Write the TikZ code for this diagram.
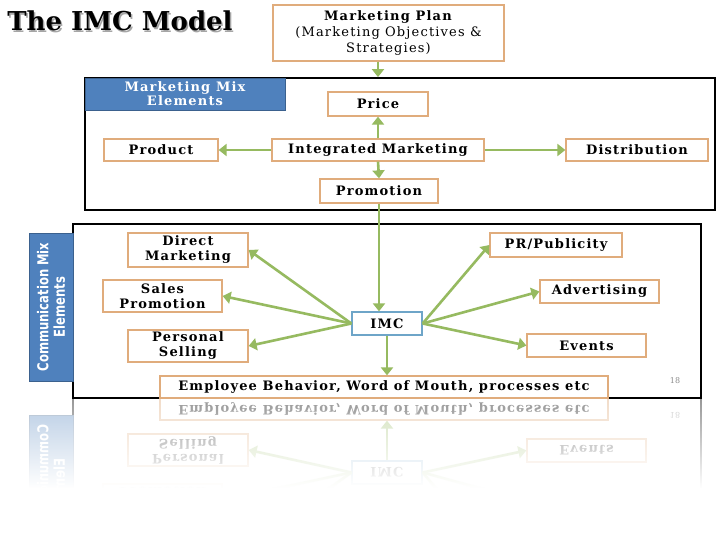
\documentclass[tikz,border=0pt]{standalone}
\usepackage{fontspec}
\setmainfont{DejaVu Serif}
\newfontfamily\spacedserif[LetterSpace=9]{DejaVu Serif}
\newfontfamily\condsans{DejaVu Sans Condensed}
\usetikzlibrary{arrows.meta,fadings}
\definecolor{boxline}{RGB}{224,172,124}
\definecolor{arrowgreen}{RGB}{150,186,96}
\definecolor{labelblue}{RGB}{79,129,189}
\definecolor{imcline}{RGB}{110,165,200}
\tikzset{
  item/.style={draw=boxline, line width=1.3pt, fill=white, align=center, inner sep=0pt,
    font=\spacedserif\bfseries\fontsize{13}{15}\selectfont},
  link/.style={draw=arrowgreen, line width=2.6pt, -{Triangle[length=8pt,width=12pt]}},
  panel/.style={draw=black, line width=1.8pt, inner sep=0pt},
  tag/.style={fill=labelblue, draw=labelblue!75!black, line width=0.8pt, text=white,
    align=center, inner sep=0pt},
}
% lower part, drawn twice (once more as the reflection)
\newcommand{\commlayer}{%
  \node[panel, minimum width=628pt, minimum height=174pt] (comm) at (387,311) {};
  \node[tag, minimum width=44pt, minimum height=148pt] (commtag) at (51,307)
    {\rotatebox{90}{\scalebox{0.86}[1]{\parbox{160pt}{\centering\condsans\bfseries\fontsize{15}{16.5}\selectfont Communication Mix\\Elements}}}};
  \node[item, minimum width=120pt, minimum height=34pt] (direct) at (188,250) {Direct\\Marketing};
  \node[item, minimum width=119pt, minimum height=32pt] (sales) at (162.5,296) {Sales\\Promotion};
  \node[item, minimum width=120pt, minimum height=32pt] (personal) at (188,346) {Personal\\Selling};
  \node[item, draw=imcline, minimum width=70pt, minimum height=23pt] (imc) at (387,323.5) {IMC};
  \node[item, minimum width=448pt, minimum height=22pt] (employee) at (384,387)
    {Employee Behavior, Word of Mouth, processes etc};
  \node[item, minimum width=132pt, minimum height=24pt] (pr) at (556,245) {PR/Publicity};
  \node[item, minimum width=119pt, minimum height=23pt] (advert) at (599.5,291.5) {Advertising};
  \node[item, minimum width=119pt, minimum height=23pt] (events) at (586.5,345.5) {Events};
  \node[text=black!45, font=\fontsize{8}{9}\selectfont] (page) at (675,381) {18};
  \draw[link] (imc.west) -- (direct.east);
  \draw[link] (imc.west) -- (sales.east);
  \draw[link] (imc.west) -- (personal.east);
  \draw[link] (imc.east) -- (pr.west);
  \draw[link] (imc.east) -- (advert.west);
  \draw[link] (imc.east) -- (events.west);
  \draw[link] (imc.south) -- (imc.south |- employee.north);
}
\begin{document}
\begin{tikzpicture}[x=1pt, y=-1pt]
  \useasboundingbox (0,0) rectangle (720,540);
  \fill[white] (0,0) rectangle (720,540);

  % reflection
  \begin{scope}
    \clip (0,398) rectangle (720,540);
    \begin{scope}[shift={(0,796)}, yscale=-1, transform shape]
      \commlayer
    \end{scope}
    \fill[white, opacity=0.6] (0,398) rectangle (720,540);
    \fill[white, path fading=north] (0,400) rectangle (720,488);
    \fill[white] (0,488) rectangle (720,540);
  \end{scope}

  \node[text=black!35, font=\bfseries\fontsize{26}{28}\selectfont] (titleshadow) at (121.5,22.5) {The IMC Model};
  \node[font=\bfseries\fontsize{26}{28}\selectfont] (title) at (120,21) {The IMC Model};

  \node[item, minimum width=231pt, minimum height=56pt, font=\spacedserif\fontsize{13}{16}\selectfont] (plan) at (388.5,33)
    {\textbf{Marketing Plan}\\(Marketing Objectives \&\\Strategies)};

  \node[panel, minimum width=630pt, minimum height=132pt] (mix) at (400,144) {};
  \node[tag, minimum width=200pt, minimum height=32pt, font=\spacedserif\bfseries\fontsize{13}{14}\selectfont] (mixtag) at (185,94)
    {Marketing Mix\\Elements};
  \node[item, minimum width=100pt, minimum height=24pt] (price) at (378,104) {Price};
  \node[item, minimum width=212pt, minimum height=22pt] (im) at (378,150) {Integrated Marketing};
  \node[item, minimum width=114pt, minimum height=22pt] (product) at (161,150) {Product};
  \node[item, minimum width=142pt, minimum height=22pt] (dist) at (637,150) {Distribution};
  \node[item, minimum width=118pt, minimum height=24pt] (promo) at (379,191) {Promotion};

  \draw[link] (im |- plan.south) -- (im |- mix.north);
  \draw[link] (im.north) -- (price.south);
  \draw[link] (im.west) -- (product.east);
  \draw[link] (im.east) -- (dist.west);
  \draw[link] (im.south) -- (promo.north);

  \commlayer
  \draw[link] (promo.south) -- (promo.south |- imc.north);
\end{tikzpicture}
\end{document}
